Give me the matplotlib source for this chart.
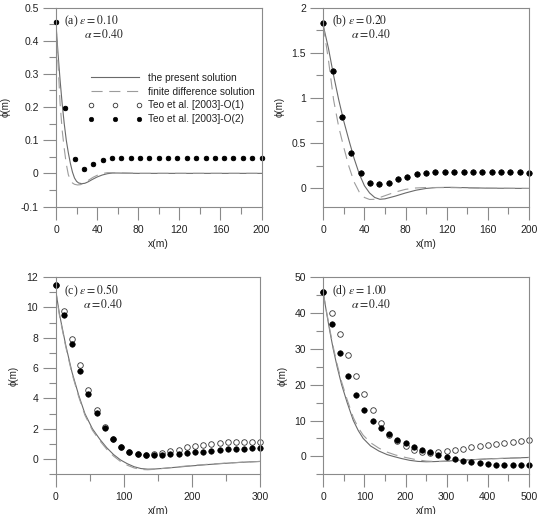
import matplotlib
matplotlib.use("Agg")
import matplotlib.pyplot as plt
from matplotlib.ticker import MultipleLocator, FormatStrFormatter

plt.rcParams["font.family"] = ["Liberation Sans", "DejaVu Sans"]
plt.rcParams["mathtext.fontset"] = "stix"
plt.rcParams["axes.unicode_minus"] = False

# (a) eps = 0.10
a_x_teo = [0, 9.1, 18.2, 27.3, 36.4, 45.5, 54.5, 63.6, 72.7, 81.8, 90.9, 100,
           109.1, 118.2, 127.3, 136.4, 145.5, 154.5, 163.6, 172.7, 181.8, 190.9, 200]
a_o2 = [0.456, 0.198, 0.042, 0.0135, 0.027, 0.040, 0.045, 0.047, 0.047, 0.046, 0.046,
        0.046, 0.046, 0.046, 0.046, 0.046, 0.046, 0.046, 0.046, 0.046, 0.046, 0.046, 0.046]
a_o1 = a_o2  # hidden under the O(2) dots
a_x_sol = [0, 2, 4, 6, 8, 10, 12, 14, 16, 18, 20, 22, 25, 28, 31, 35, 40, 45, 50,
           55, 60, 70, 80, 100, 150, 200]
a_sol = [0.45, 0.36, 0.28, 0.21, 0.15, 0.10, 0.062, 0.03, 0.004, -0.014, -0.024,
         -0.029, -0.031, -0.030, -0.026, -0.019, -0.011, -0.005, -0.001, 0.001, 0.001,
         0.0005, 0.0, 0.0, 0.0, 0.0]
a_x_fd = [0, 2, 4, 6, 8, 10, 12, 14, 16, 18, 21, 24, 28, 32, 36, 40, 44, 50, 56, 65,
          80, 100, 150, 200]
a_fd = [0.45, 0.33, 0.21, 0.13, 0.075, 0.028, -0.004, -0.02, -0.029, -0.033, -0.035,
        -0.034, -0.028, -0.02, -0.012, -0.006, -0.001, 0.002, 0.002, 0.001, 0.0, 0.0,
        0.0, 0.0]

# (b) eps = 0.20
b_x_teo = a_x_teo
b_o2 = [1.83, 1.30, 0.785, 0.396, 0.167, 0.063, 0.044, 0.063, 0.10, 0.13, 0.159, 0.170,
        0.178, 0.181, 0.181, 0.181, 0.178, 0.178, 0.178, 0.178, 0.178, 0.178, 0.174]
b_o1 = b_o2
b_x_sol = [0, 5, 10, 15, 20, 25, 30, 35, 40, 45, 50, 55, 60, 70, 80, 90, 100, 110,
           125, 140, 160, 200]
b_sol = [1.80, 1.55, 1.25, 0.98, 0.74, 0.53, 0.33, 0.16, 0.03, -0.05, -0.10, -0.12,
         -0.115, -0.085, -0.05, -0.02, 0.0, 0.01, 0.012, 0.008, 0.003, 0.0]
b_x_fd = [0, 5, 10, 15, 20, 25, 30, 35, 40, 45, 50, 55, 60, 70, 80, 90, 100, 110,
          130, 160, 200]
b_fd = [1.80, 1.42, 0.98, 0.68, 0.45, 0.24, 0.07, -0.04, -0.10, -0.122, -0.12, -0.10,
        -0.08, -0.04, -0.01, 0.005, 0.01, 0.01, 0.008, 0.002, 0.0]

# (c) eps = 0.50
c_x_teo = [0, 12, 24, 36, 48, 60, 72, 84, 96, 108, 120, 132, 144, 156, 168, 180, 192,
           204, 216, 228, 240, 252, 264, 276, 288, 300]
c_o2 = [11.47, 9.49, 7.56, 5.80, 4.26, 3.01, 2.07, 1.32, 0.79, 0.46, 0.31, 0.24, 0.24,
        0.26, 0.31, 0.35, 0.40, 0.44, 0.48, 0.53, 0.59, 0.64, 0.66, 0.70, 0.73, 0.75]
c_o1 = [11.47, 9.76, 7.93, 6.20, 4.55, 3.21, 2.12, 1.35, 0.80, 0.50, 0.33, 0.26, 0.33,
        0.40, 0.51, 0.62, 0.77, 0.86, 0.92, 0.99, 1.05, 1.10, 1.12, 1.14, 1.16, 1.16]
c_x_sol = [0, 6, 15, 24, 34, 43, 54, 65, 75, 85, 95, 105, 115, 125, 135, 145, 160, 180,
           200, 225, 250, 275, 300]
c_sol = [11.2, 9.5, 7.5, 5.75, 4.2, 3.0, 2.0, 1.3, 0.75, 0.3, -0.05, -0.3, -0.5, -0.62,
         -0.66, -0.65, -0.6, -0.52, -0.44, -0.35, -0.27, -0.2, -0.15]
c_fd = [11.2, 9.4, 7.4, 5.65, 4.1, 2.9, 1.9, 1.2, 0.65, 0.2, -0.15, -0.4, -0.58, -0.68,
        -0.7, -0.67, -0.6, -0.5, -0.42, -0.33, -0.26, -0.2, -0.15]

# (d) eps = 1.00
d_x_teo = [0, 20, 40, 60, 80, 100, 120, 140, 160, 180, 200, 220, 240, 260, 280, 300,
           320, 340, 360, 380, 400, 420, 440, 460, 480, 500]
d_o2 = [45.9, 36.9, 28.9, 22.3, 17.2, 13.0, 9.9, 7.8, 6.1, 4.6, 3.6, 2.6, 1.8, 1.1,
        0.46, -0.19, -0.74, -1.3, -1.67, -1.95, -2.13, -2.32, -2.41, -2.41, -2.41, -2.41]
d_o1 = [45.9, 40.1, 34.1, 28.3, 22.4, 17.3, 12.8, 9.2, 6.0, 4.2, 2.8, 1.9, 1.3, 1.0,
        1.2, 1.5, 1.8, 2.0, 2.5, 3.0, 3.2, 3.5, 3.8, 4.0, 4.2, 4.45]
d_x_sol = [0, 8, 16, 24, 34, 44.5, 58, 73, 85, 97, 115, 135, 155, 170, 190, 210, 230,
           250, 270, 300, 350, 400, 450, 500]
d_sol = [45.5, 40, 34.8, 30, 24.8, 20, 15, 10, 7.2, 5, 2.9, 1.5, 0.5, 0, -0.6, -1.1,
         -1.4, -1.5, -1.45, -1.3, -1.0, -0.7, -0.5, -0.3]
d_x_fd = [0, 8, 16, 24, 34, 44.5, 58, 73, 85, 97, 115, 135, 155, 175, 200, 225, 250,
          275, 300, 350, 400, 450, 500]
d_fd = [45.5, 40.3, 35.3, 30.6, 25.5, 20.8, 15.8, 10.8, 8.0, 5.9, 3.8, 2.3, 1.2, 0.4,
        -0.3, -0.9, -1.3, -1.45, -1.4, -1.0, -0.7, -0.5, -0.3]

SOL_COLOR = "#6a6a6a"
FD_COLOR = "#9c9c9c"
SPINE_COLOR = "#8a8a8a"
TEXT_COLOR = "#222222"


def draw_panel(ax, tag, eps, x_sol, sol, x_fd, fd, x_teo, o1, o2, xlim, ylim,
               xmaj, xmin, ymaj, ymin, ms, ylab_x):
    ax.plot(x_sol, sol, color=SOL_COLOR, lw=0.8, label="the present solution")
    ax.plot(x_fd, fd, color=FD_COLOR, lw=0.8, dashes=(10, 6),
            label="finite difference solution")
    ax.plot(x_teo, o1, ls="none", marker="o", ms=ms, mfc="white", mec="#333333",
            mew=0.6, clip_on=False, label="Teo et al. [2003]-O(1)")
    ax.plot(x_teo, o2, ls="none", marker="o", ms=ms, mfc="black", mec="black",
            mew=0.4, clip_on=False, label="Teo et al. [2003]-O(2)")

    ax.set_xlim(*xlim)
    ax.set_ylim(*ylim)
    ax.xaxis.set_major_locator(MultipleLocator(xmaj))
    ax.xaxis.set_minor_locator(MultipleLocator(xmin))
    ax.yaxis.set_major_locator(MultipleLocator(ymaj))
    ax.yaxis.set_minor_locator(MultipleLocator(ymin))
    ax.yaxis.set_major_formatter(FormatStrFormatter("%g"))
    ax.xaxis.set_major_formatter(FormatStrFormatter("%g"))

    for sp in ax.spines.values():
        sp.set_color(SPINE_COLOR)
        sp.set_linewidth(0.8)
    ax.tick_params(which="major", direction="out", length=9.5, width=0.8,
                   color=SPINE_COLOR, labelsize=7.5, labelcolor=TEXT_COLOR)
    ax.tick_params(which="minor", direction="out", length=5, width=0.8,
                   color=SPINE_COLOR)
    ax.tick_params(axis="x", which="major", pad=3.5)
    ax.tick_params(axis="y", which="major", pad=3)

    ax.set_xlabel("x(m)", fontsize=7.5, color=TEXT_COLOR)
    ax.set_ylabel("ϕ(m)", fontsize=7, color=TEXT_COLOR)
    ax.xaxis.set_label_coords(0.5, -0.163)
    ax.yaxis.set_label_coords(ylab_x, 0.5)

    ax.text(0.04, 0.93, "(" + tag + ") $\\varepsilon = " + eps + "$",
            transform=ax.transAxes, fontsize=8.5, family="Liberation Serif",
            va="center", ha="left", color=TEXT_COLOR)
    ax.text(0.135, 0.862, "$\\alpha = 0.40$", transform=ax.transAxes, fontsize=8.5,
            va="center", ha="left", color=TEXT_COLOR)


def main():
    fig = plt.figure(figsize=(5.39, 5.14), dpi=100)
    ax_a = fig.add_axes([0.1039, 0.5982, 0.3813, 0.3872])
    ax_b = fig.add_axes([0.5998, 0.5982, 0.3816, 0.3872])
    ax_c = fig.add_axes([0.1030, 0.0772, 0.3803, 0.3839])
    ax_d = fig.add_axes([0.5998, 0.0772, 0.3816, 0.3839])

    draw_panel(ax_a, "a", "0.10", a_x_sol, a_sol, a_x_fd, a_fd, a_x_teo, a_o1, a_o2,
               (0, 200), (-0.1, 0.5), 40, 20, 0.1, 0.05, 3.3, -0.22)
    draw_panel(ax_b, "b", "0.20", b_x_sol, b_sol, b_x_fd, b_fd, b_x_teo, b_o1, b_o2,
               (0, 200), (-0.2, 2.0), 40, 20, 0.5, 0.25, 3.8, -0.19)
    draw_panel(ax_c, "c", "0.50", c_x_sol, c_sol, c_x_sol, c_fd, c_x_teo, c_o1, c_o2,
               (0, 300), (-1, 12), 100, 50, 2, 1, 4.0, -0.18)
    draw_panel(ax_d, "d", "1.00", d_x_sol, d_sol, d_x_fd, d_fd, d_x_teo, d_o1, d_o2,
               (0, 500), (-5, 50), 100, 50, 10, 5, 4.0, -0.175)

    ax_a.legend(loc="upper left", bbox_to_anchor=(0.156, 0.672), frameon=False,
                fontsize=7.3, numpoints=3, handlelength=5.3, handletextpad=0.6,
                labelspacing=0.38, borderpad=0, borderaxespad=0,
                labelcolor=TEXT_COLOR)

    fig.savefig("out.png", dpi=100)
    plt.close(fig)


if __name__ == "__main__":
    main()
